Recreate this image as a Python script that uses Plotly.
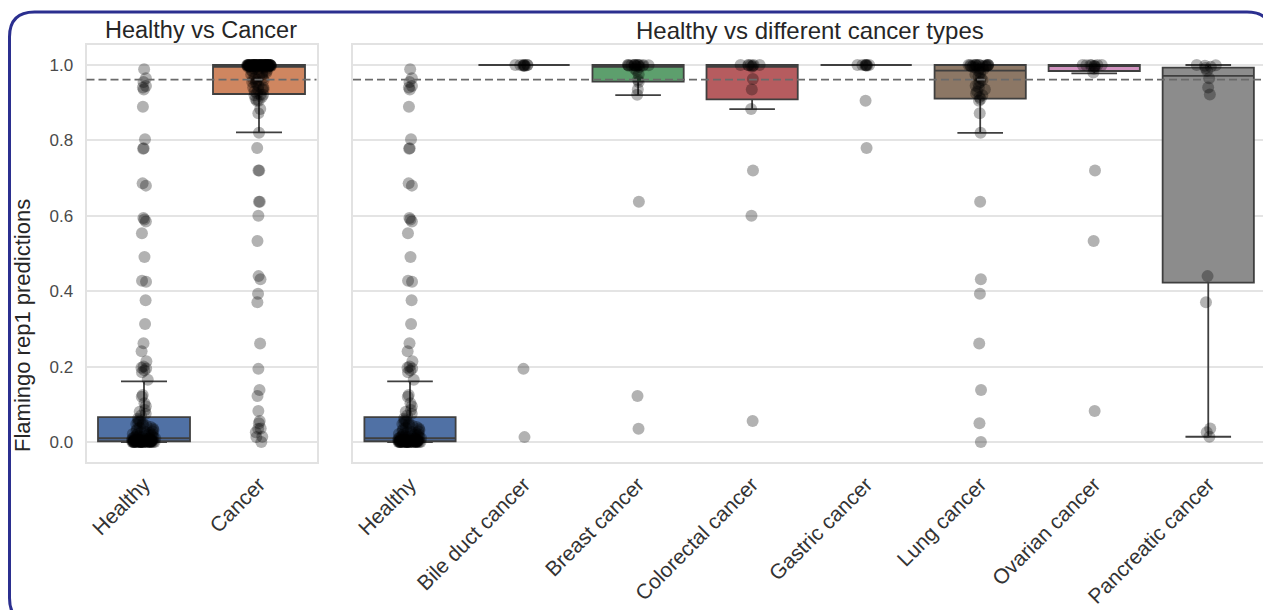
import plotly.graph_objects as go

# ---------------- data ----------------
left_groups = ["Healthy", "Cancer"]
right_groups = ["Healthy", "Bile duct cancer", "Breast cancer", "Colorectal cancer",
                "Gastric cancer", "Lung cancer", "Ovarian cancer", "Pancreatic cancer"]

healthy = [0.989, 0.965, 0.955, 0.944, 0.940, 0.935, 0.889, 0.803, 0.779, 0.778,
           0.686, 0.680, 0.594, 0.590, 0.585, 0.554, 0.491, 0.428, 0.425, 0.376,
           0.313, 0.262, 0.241, 0.214, 0.200, 0.197, 0.195, 0.190, 0.185,
           0.165, 0.125, 0.120, 0.103, 0.095, 0.085, 0.080, 0.075, 0.070,
           0.062, 0.058, 0.055, 0.052, 0.050, 0.048, 0.045, 0.043, 0.040, 0.038,
           0.036, 0.034, 0.032, 0.030, 0.028, 0.027, 0.025, 0.024, 0.022, 0.021,
           0.020, 0.019, 0.018, 0.017, 0.016, 0.015, 0.014, 0.013, 0.012, 0.011,
           0.010, 0.010, 0.009, 0.009, 0.008, 0.008, 0.007, 0.007, 0.006, 0.006,
           0.005, 0.005, 0.005, 0.004, 0.004, 0.004, 0.003, 0.003, 0.003, 0.003,
           0.002, 0.002, 0.002, 0.002, 0.002, 0.001, 0.001, 0.001, 0.001, 0.001,
           0.001, 0.001, 0.001, 0.001, 0.001, 0.000, 0.000, 0.000, 0.000, 0.000,
           0.000, 0.000, 0.000, 0.000, 0.000, 0.000, 0.000, 0.000, 0.000, 0.000,
           0.000, 0.000, 0.000, 0.000, 0.000]
bile_duct = [1.0, 1.0, 0.999, 1.0, 0.998, 1.0, 0.997, 1.0, 0.999, 0.194, 0.013]
breast = [1.0, 1.0, 1.0, 1.0, 0.999, 1.0, 0.998, 1.0, 0.997, 1.0, 0.999, 1.0, 0.998,
          1.0, 0.995, 0.990, 0.985, 0.975, 0.960, 0.955, 0.935, 0.921, 0.637, 0.122, 0.035]
colorectal = [1.0, 1.0, 0.999, 1.0, 0.998, 1.0, 0.999, 0.995, 0.963, 0.935, 0.883,
              0.720, 0.600, 0.056]
gastric = [1.0, 1.0, 0.999, 1.0, 0.998, 1.0, 0.999, 1.0, 0.905, 0.780]
lung = [1.0, 1.0, 1.0, 0.999, 1.0, 0.999, 1.0, 0.998, 1.0, 0.997, 1.0, 0.999, 1.0,
        0.998, 1.0, 0.996, 0.995, 0.993, 0.990, 0.988, 0.985, 0.980, 0.975, 0.970,
        0.965, 0.960, 0.955, 0.950, 0.945, 0.940, 0.935, 0.930, 0.925, 0.920, 0.915,
        0.910, 0.905, 0.872, 0.820, 0.637, 0.432, 0.393, 0.261, 0.138, 0.050, 0.000]
ovarian = [1.0, 1.0, 0.999, 1.0, 0.998, 1.0, 0.999, 0.997, 0.995, 0.990, 0.980,
           0.720, 0.533, 0.082]
pancreatic = [1.0, 0.999, 0.998, 0.995, 0.992, 0.985, 0.965, 0.940, 0.922, 0.440,
              0.371, 0.036, 0.026, 0.014]
cancer = bile_duct + breast + colorectal + gastric + lung + ovarian + pancreatic

right_values = [healthy, bile_duct, breast, colorectal, gastric, lung, ovarian, pancreatic]
left_values = [healthy, cancer]

# box statistics
left_q1 = [0.002, 0.923]
left_med = [0.010, 0.995]
left_q3 = [0.066, 1.000]
left_lo = [0.000, 0.821]
left_hi = [0.161, 1.000]

right_q1 = [0.002, 1.000, 0.956, 0.909, 1.000, 0.911, 0.984, 0.423]
right_med = [0.010, 1.000, 0.995, 0.995, 1.000, 0.985, 0.997, 0.971]
right_q3 = [0.066, 1.000, 1.000, 1.000, 1.000, 1.000, 1.000, 0.993]
right_lo = [0.000, 1.000, 0.920, 0.883, 1.000, 0.820, 0.978, 0.014]
right_hi = [0.161, 1.000, 1.000, 1.000, 1.000, 1.000, 1.000, 1.000]

threshold = 0.961
y_ticks = [0.0, 0.2, 0.4, 0.6, 0.8, 1.0]

left_colors = ["#5071a5", "#cf8660"]
right_colors = ["#5071a5", "#cf8660", "#5d9f6d", "#b65c5f", "#8578ab",
                "#8c7765", "#d293c0", "#8c8c8c"]

EDGE = "#3f3f3f"
FONT = "Liberation Sans, Arial, sans-serif"
W, H = 1263, 610

fig = go.Figure()


def add_panel(groups, values, q1, med, q3, lo, hi, colors, xa, ya):
    for i, g in enumerate(groups):
        fig.add_trace(go.Box(
            x=[g], q1=[q1[i]], median=[med[i]], q3=[q3[i]],
            lowerfence=[lo[i]], upperfence=[hi[i]],
            width=0.8, whiskerwidth=0.5, boxpoints=False,
            fillcolor=colors[i], line=dict(color=EDGE, width=1.8),
            xaxis=xa, yaxis=ya, showlegend=False, hoverinfo="skip"))
    for i, g in enumerate(groups):
        fig.add_trace(go.Box(
            x=[g] * len(values[i]), y=values[i],
            width=0.8, boxpoints="all", jitter=0.26, pointpos=0,
            fillcolor="rgba(0,0,0,0)", line=dict(color="rgba(0,0,0,0)", width=0),
            marker=dict(color="rgba(0,0,0,0.3)", size=12, line=dict(width=0)),
            xaxis=xa, yaxis=ya, showlegend=False))


add_panel(left_groups, left_values, left_q1, left_med, left_q3, left_lo, left_hi,
          left_colors, "x", "y")
add_panel(right_groups, right_values, right_q1, right_med, right_q3, right_lo, right_hi,
          right_colors, "x2", "y2")

y_range = [-0.053, 1.053]
y_dom = [1 - 462 / H, 1 - 45 / H]

common_x = dict(type="category", showgrid=False, zeroline=False,
                showline=True, mirror=True, linecolor="#e2e2e2", linewidth=2,
                tickangle=-45, ticks="",
                tickfont=dict(family=FONT, size=21, color="#333333"))
common_y = dict(range=y_range, tickvals=y_ticks, tickformat=".1f", showgrid=True,
                gridcolor="#e4e4e4", gridwidth=2, zeroline=False,
                showline=True, mirror=True, linecolor="#e2e2e2", linewidth=2,
                ticks="outside", ticklen=8, tickcolor="rgba(0,0,0,0)",
                tickfont=dict(family=FONT, size=17, color="#4a4a4a"))

fig.update_layout(
    width=W, height=H, margin=dict(l=0, r=0, t=0, b=0, autoexpand=False),
    paper_bgcolor="white", plot_bgcolor="white", boxmode="overlay",
    xaxis=dict(common_x, domain=[86.5 / W, 316.5 / W], range=[-0.5, 1.5],
               categoryorder="array", categoryarray=left_groups, anchor="y"),
    yaxis=dict(common_y, domain=y_dom, anchor="x"),
    xaxis2=dict(common_x, domain=[353 / W, 1.0], range=[-0.5, 7.48],
                categoryorder="array", categoryarray=right_groups, anchor="y2"),
    yaxis2=dict(common_y, domain=y_dom, anchor="x2", matches="y", showticklabels=False),
)

# threshold dashed lines
for xr, yr in (("x domain", "y"), ("x2 domain", "y2")):
    fig.add_shape(type="line", xref=xr, yref=yr, x0=0, x1=1, y0=threshold, y1=threshold,
                  line=dict(color="#6a6a6a", width=1.8, dash="8px,4px"), layer="above")

# titles
fig.add_annotation(text="Healthy vs Cancer", xref="paper", yref="paper",
                   x=201 / W, y=1 - 30 / H, showarrow=False, xanchor="center", yanchor="middle",
                   font=dict(family=FONT, size=23.5, color="#262626"))
fig.add_annotation(text="Healthy vs different cancer types", xref="paper", yref="paper",
                   x=810 / W, y=1 - 30 / H, showarrow=False, xanchor="center", yanchor="middle",
                   font=dict(family=FONT, size=24, color="#262626"))
fig.add_annotation(text="Flamingo rep1 predictions", xref="paper", yref="paper",
                   x=22 / W, y=1 - 326 / H, showarrow=False, textangle=-90,
                   xanchor="center", yanchor="middle",
                   font=dict(family=FONT, size=22, color="#262626"))


# rounded blue frame
def px(x):
    return x / W


def py(y):
    return 1 - y / H


L, T, R, B, r = 9.5, 12.0, 1272.0, 623.0, 25.0
path = (f"M {px(L + r)},{py(T)} L {px(R - r)},{py(T)} Q {px(R)},{py(T)} {px(R)},{py(T + r)} "
        f"L {px(R)},{py(B - r)} Q {px(R)},{py(B)} {px(R - r)},{py(B)} "
        f"L {px(L + r)},{py(B)} Q {px(L)},{py(B)} {px(L)},{py(B - r)} "
        f"L {px(L)},{py(T + r)} Q {px(L)},{py(T)} {px(L + r)},{py(T)} Z")
fig.add_shape(type="path", xref="paper", yref="paper", path=path,
              line=dict(color="#2b2f8f", width=3), fillcolor="rgba(0,0,0,0)", layer="above")

fig.write_html("out.html", config={"displayModeBar": False},
               post_script="document.body.style.margin='0px';document.body.style.overflow='hidden';")
